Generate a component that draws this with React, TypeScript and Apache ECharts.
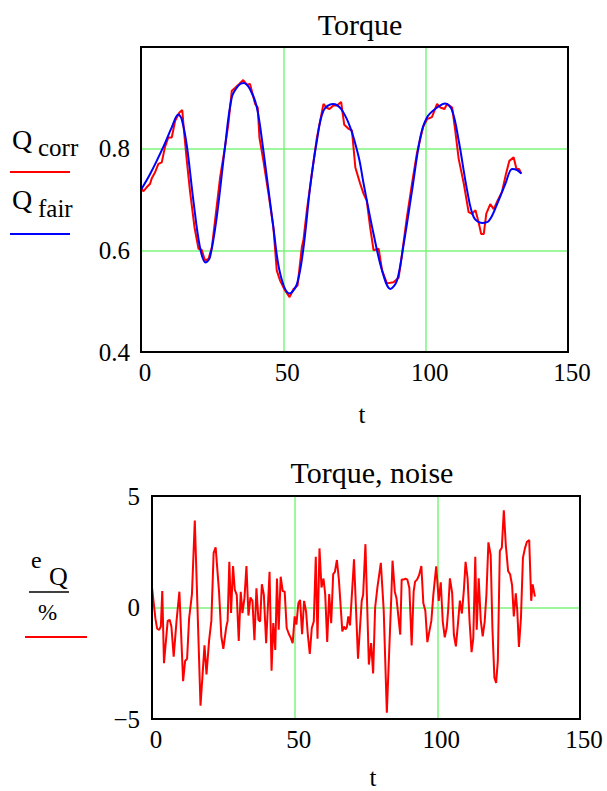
import React, { useEffect, useRef } from "react";
import * as echarts from "echarts";

// ---------- data ----------
// Torque, smoothed fit (Q_fair): [t, Q]
const fairT = [0, 3.2, 7.8, 10.8, 13.1, 14.3, 16.1, 18.4, 20.7, 22.7, 24.2, 26.6, 29.5, 31.9, 34.2, 36, 38.3, 40.7, 43, 46.5, 48.9, 52.2, 54.8, 57.1, 59.4, 61.8, 64.1, 67.4, 70.3, 73.5, 76.5, 78.2, 81.7, 84.7, 87.6, 89.9, 92.3, 95.2, 98.1, 100.5, 104, 106.9, 109.3, 111.6, 114.6, 116.9, 119.8, 122.2, 125.1, 128, 130.4, 132.1, 133.6];
const fairQ = [0.719, 0.75, 0.803, 0.842, 0.867, 0.858, 0.806, 0.698, 0.606, 0.576, 0.586, 0.665, 0.803, 0.901, 0.924, 0.929, 0.917, 0.881, 0.796, 0.645, 0.554, 0.515, 0.534, 0.606, 0.724, 0.816, 0.875, 0.888, 0.878, 0.842, 0.783, 0.731, 0.632, 0.56, 0.524, 0.54, 0.613, 0.717, 0.822, 0.862, 0.881, 0.889, 0.875, 0.816, 0.717, 0.665, 0.654, 0.658, 0.691, 0.731, 0.76, 0.758, 0.751];

// Torque, corrected measurement (Q_corr): [t, Q]
const corrT = [0, 0.8, 2, 3.2, 3.8, 4.9, 6.1, 7.3, 8.4, 9.6, 10.8, 12, 13.5, 14.5, 15.1, 16.1, 17.2, 18.8, 20.2, 21.3, 22.5, 23.7, 24.9, 26, 27.8, 29.5, 30.7, 31.9, 33.1, 34.6, 35.9, 37.2, 38.3, 40.1, 41, 41.6, 43, 44.8, 46.5, 47.7, 48.9, 50.6, 52.2, 53.6, 55, 56.5, 57.1, 58.3, 60, 61.8, 64.1, 65.1, 66.2, 67.6, 68.8, 70.3, 71.4, 72.9, 74.1, 75.3, 77, 78.2, 79.3, 80.5, 81.7, 83.5, 84.7, 86.4, 88.7, 90.5, 91.7, 93.4, 95.2, 96.9, 99.1, 100.5, 102.2, 104, 105.2, 106.6, 107.5, 109.3, 110.4, 111.6, 113.4, 115.1, 116.3, 117.5, 118.6, 119.5, 120.4, 121.3, 122.7, 123.9, 125.3, 126.8, 128.2, 129.4, 130.9, 131.9, 132.8, 133.6];
const corrQ = [0.724, 0.716, 0.724, 0.731, 0.742, 0.753, 0.77, 0.773, 0.803, 0.822, 0.822, 0.855, 0.871, 0.876, 0.835, 0.776, 0.717, 0.645, 0.603, 0.601, 0.58, 0.583, 0.606, 0.658, 0.744, 0.803, 0.849, 0.914, 0.92, 0.928, 0.935, 0.926, 0.927, 0.888, 0.881, 0.822, 0.776, 0.711, 0.645, 0.56, 0.54, 0.521, 0.508, 0.524, 0.531, 0.606, 0.622, 0.68, 0.75, 0.822, 0.888, 0.881, 0.878, 0.885, 0.885, 0.892, 0.847, 0.839, 0.836, 0.763, 0.731, 0.711, 0.698, 0.645, 0.6, 0.603, 0.56, 0.535, 0.537, 0.546, 0.593, 0.665, 0.731, 0.79, 0.843, 0.858, 0.862, 0.888, 0.881, 0.878, 0.888, 0.881, 0.835, 0.78, 0.731, 0.675, 0.672, 0.679, 0.655, 0.632, 0.632, 0.672, 0.691, 0.681, 0.698, 0.715, 0.75, 0.776, 0.783, 0.76, 0.76, 0.751];

// Torque noise e_Q in %: [t, e]
const noiseT = [0, 1.2, 1.8, 2.5, 3.1, 3.6, 4.2, 5.5, 6.2, 6.8, 7.6, 8.6, 9.6, 10.9, 11.6, 12.3, 13, 14, 15, 17, 18.4, 19.1, 20, 20.8, 21.6, 22.3, 23.5, 24.3, 25, 26, 26.5, 27.1, 27.7, 28.4, 29, 29.7, 30.4, 31.1, 31.7, 32.4, 33.1, 33.8, 34.5, 35.2, 35.9, 36.6, 37.3, 37.9, 38.5, 39.2, 40, 41.2, 41.9, 42.5, 43.2, 43.8, 44.4, 45.1, 45.8, 46.5, 47.2, 48, 48.6, 49.3, 50, 50.6, 51.3, 51.9, 52.6, 53.3, 54, 54.6, 55.3, 56, 56.7, 57.4, 58, 58.7, 59.4, 60.1, 60.7, 61.4, 62.1, 62.8, 63.5, 64.1, 64.8, 65.5, 66.7, 67.3, 67.8, 68.3, 68.8, 69.4, 70.8, 72.2, 73.5, 74, 74.8, 76, 76.8, 77.5, 78.2, 79, 80.2, 81.2, 82.3, 83.9, 84.3, 85.1, 85.7, 87, 87.5, 88.2, 88.8, 89.5, 90.2, 91, 91.7, 92.2, 92.9, 93.6, 94.4, 95.1, 95.8, 96.5, 97.2, 97.9, 98.6, 99.6, 100.5, 101.2, 101.9, 102.6, 103.3, 103.8, 104.4, 105.2, 105.8, 106.5, 107.2, 107.9, 108.6, 109.3, 109.9, 110.6, 111.3, 112, 112.6, 113.3, 113.8, 114.5, 115.2, 115.9, 116.6, 117.2, 117.9, 118.7, 119.3, 120, 120.6, 121.2, 121.9, 122.6, 123.3, 124, 124.8, 125.5, 126.2, 126.8, 127.5, 128, 128.6, 129.3, 130, 130.7, 131.4, 132.2, 132.9, 133.4, 134.2];
const noiseE = [0.9, -0.5, -0.95, -1.0, -0.85, 0.74, -2.5, -0.6, -0.55, -0.85, -2.2, -0.6, 0.71, -3.3, -2.4, -2.3, -0.5, 0.6, 3.9, -4.4, -1.7, -3.0, -1.5, -0.6, 2.45, 2.7, 0.7, -1.3, -1.85, -0.9, -0.6, 2.05, -0.25, 1.86, 0.8, 0.57, -1.5, 0.7, -0.25, 0.42, 1.86, -0.36, 0.45, 0.3, -1.47, 0.86, -0.55, -0.63, 1.04, 0.57, -1.6, 1.6, -2.83, -0.7, -1.9, 1.3, -1.0, 1.38, 0.74, 0.71, -0.92, -1.2, -1.35, -1.6, -0.4, -0.77, 0.19, 0.34, -1.2, 0.3, -0.18, -1.2, -2.08, -0.92, -0.63, 2.28, -1.4, 2.65, 0.9, 1.3, 0.6, -1.55, 0.6, -0.7, 1.5, 1.6, 2.13, 1.25, -1.07, -0.85, -0.98, -0.88, -0.4, -0.8, 2.16, -2.3, 0.3, 0.57, 2.84, -2.56, -1.6, -2.96, 0.0, 0.9, 2.0, -0.1, -4.72, 0.6, 2.1, 0.71, 0.4, -1.22, 1.26, 1.25, 1.3, 1.25, 0.87, -1.7, 0.71, 1.16, 1.25, 1.45, 1.86, 0.19, -0.15, -1.55, -1.07, -0.6, 0.57, 1.85, 0.3, 1.13, -0.63, -1.34, -0.9, -0.1, 1.31, 0.64, -1.22, -1.74, -0.77, 0.31, -0.27, 0.78, 2.05, 1.31, -0.63, -2.0, -1.37, 2.28, -1.0, 1.31, -0.55, -1.3, -0.63, 0.57, 2.92, 2.35, -0.92, -3.15, -3.38, -2.4, 2.53, 2.68, 4.36, 2.8, 1.64, 1.49, 1.0, -0.4, 0.64, -0.1, -1.77, -0.48, 2.23, 2.65, 2.95, 3.02, 0.3, 1.04, 0.49];

const xTicks = [0, 50, 100, 150];
const topYTicks = [0.4, 0.6, 0.8];
const botYTicks = [-5, 0, 5];

const zip = (a: number[], b: number[]) => a.map((v, i) => [v, b[i]]);

const FONT = "'Liberation Serif', 'Times New Roman', Times, serif";
const GREEN = "#7df57d";
const RED = "#ff0000";
const BLUE = "#0000ff";

const G1 = { left: 141, top: 47, width: 427, height: 305 };
const G2 = { left: 152, top: 496, width: 428, height: 223 };

export default function App() {
  const ref = useRef<HTMLDivElement>(null);
  useEffect(() => {
    if (!ref.current) return;
    const chart = echarts.init(ref.current, undefined, { renderer: "svg" });
    const tickLabel = {
      fontFamily: FONT,
      fontSize: 25,
      color: "#000",
    };
    const fmtMinus = (v: number) => {
      const r = Math.round(v * 10) / 10;
      return r < 0 ? "\u2212" + String(Math.abs(r)) : String(r);
    };
    const xAxisCommon = {
      type: "value" as const,
      min: 0,
      max: 150,
      interval: 50,
      axisLine: { show: false },
      axisTick: { show: false },
      splitLine: { show: true, lineStyle: { color: GREEN, width: 1.5 } },
      axisLabel: {
        ...tickLabel,
        margin: 8,
        padding: [0, 0, 0, 8],
        formatter: (v: number) => (xTicks.includes(Math.round(v)) ? String(Math.round(v)) : ""),
      },
    };
    const option: any = {
      animation: false,
      textStyle: { fontFamily: FONT },
      title: [
        {
          text: "Torque",
          left: 355,
          top: 4,
          textAlign: "center",
          textStyle: { fontFamily: FONT, fontSize: 30, fontWeight: "normal", color: "#000" },
        },
        {
          text: "Torque, noise",
          left: 367,
          top: 452,
          textAlign: "center",
          textStyle: { fontFamily: FONT, fontSize: 30, fontWeight: "normal", color: "#000" },
        },
      ],
      grid: [
        { ...G1, containLabel: false },
        { ...G2, containLabel: false },
      ],
      xAxis: [
        { ...xAxisCommon, gridIndex: 0 },
        { ...xAxisCommon, gridIndex: 1 },
      ],
      yAxis: [
        {
          gridIndex: 0,
          type: "value",
          min: 0.4,
          max: 1.0,
          interval: 0.2,
          axisLine: { show: false },
          axisTick: { show: false },
          splitLine: { show: true, lineStyle: { color: GREEN, width: 1.5 } },
          axisLabel: {
            ...tickLabel,
            margin: 11,
            padding: [8, 0, 0, 0],
            formatter: (v: number) => {
              const r = Math.round(v * 10) / 10;
              return topYTicks.includes(r) ? r.toFixed(1) : "";
            },
          },
        },
        {
          gridIndex: 1,
          type: "value",
          min: -5,
          max: 5,
          interval: 5,
          axisLine: { show: false },
          axisTick: { show: false },
          splitLine: { show: true, lineStyle: { color: GREEN, width: 1.5 } },
          axisLabel: {
            ...tickLabel,
            margin: 12,
            padding: [8, 0, 0, 0],
            formatter: (v: number) => (botYTicks.includes(Math.round(v)) ? fmtMinus(v) : ""),
          },
        },
      ],
      series: [
        {
          type: "line",
          xAxisIndex: 0,
          yAxisIndex: 0,
          data: zip(corrT, corrQ),
          showSymbol: false,
          lineStyle: { color: RED, width: 2 },
          z: 2,
        },
        {
          type: "line",
          xAxisIndex: 0,
          yAxisIndex: 0,
          data: zip(fairT, fairQ),
          smooth: 0.35,
          showSymbol: false,
          lineStyle: { color: BLUE, width: 2 },
          z: 3,
        },
        {
          type: "line",
          xAxisIndex: 1,
          yAxisIndex: 1,
          data: zip(noiseT, noiseE),
          showSymbol: false,
          lineStyle: { color: RED, width: 2 },
          z: 2,
        },
      ],
      graphic: [
        // plot frames
        {
          type: "rect",
          shape: { x: G1.left, y: G1.top, width: G1.width, height: G1.height },
          style: { fill: "none", stroke: "#000", lineWidth: 2 },
          z: 100,
        },
        {
          type: "rect",
          shape: { x: G2.left, y: G2.top, width: G2.width, height: G2.height },
          style: { fill: "none", stroke: "#000", lineWidth: 2 },
          z: 100,
        },
        // axis names
        { type: "text", x: 362, y: 414, style: { text: "t", font: `25px ${FONT}`, fill: "#000", textAlign: "center", textVerticalAlign: "middle" } },
        { type: "text", x: 373, y: 777, style: { text: "t", font: `25px ${FONT}`, fill: "#000", textAlign: "center", textVerticalAlign: "middle" } },
        // top legend
        { type: "text", x: 12, y: 139, style: { text: "Q", font: `28px ${FONT}`, fill: "#000", textAlign: "left", textVerticalAlign: "middle" } },
        { type: "text", x: 38, y: 147, style: { text: "corr", font: `25px ${FONT}`, fill: "#000", textAlign: "left", textVerticalAlign: "middle" } },
        { type: "line", shape: { x1: 10, y1: 172, x2: 70, y2: 172 }, style: { stroke: RED, lineWidth: 2 } },
        { type: "text", x: 12, y: 199, style: { text: "Q", font: `28px ${FONT}`, fill: "#000", textAlign: "left", textVerticalAlign: "middle" } },
        { type: "text", x: 38, y: 208, style: { text: "fair", font: `25px ${FONT}`, fill: "#000", textAlign: "left", textVerticalAlign: "middle" } },
        { type: "line", shape: { x1: 10, y1: 234, x2: 70, y2: 234 }, style: { stroke: BLUE, lineWidth: 2 } },
        // bottom legend
        { type: "text", x: 31, y: 560, style: { text: "e", font: `24px ${FONT}`, fill: "#000", textAlign: "left", textVerticalAlign: "middle" } },
        { type: "text", x: 49, y: 576, style: { text: "Q", font: `26px ${FONT}`, fill: "#000", textAlign: "left", textVerticalAlign: "middle" } },
        { type: "line", shape: { x1: 29, y1: 592, x2: 69, y2: 592 }, style: { stroke: "#000", lineWidth: 1.5 } },
        { type: "text", x: 38, y: 612, style: { text: "%", font: `23px ${FONT}`, fill: "#000", textAlign: "left", textVerticalAlign: "middle" } },
        { type: "line", shape: { x1: 25, y1: 637, x2: 87, y2: 637 }, style: { stroke: RED, lineWidth: 2 } },
      ],
    };
    chart.setOption(option);
    return () => chart.dispose();
  }, []);
  return (
    <div
      ref={ref}
      style={{ position: "absolute", left: 0, top: 0, width: 607, height: 791, background: "#fff" }}
    />
  );
}
